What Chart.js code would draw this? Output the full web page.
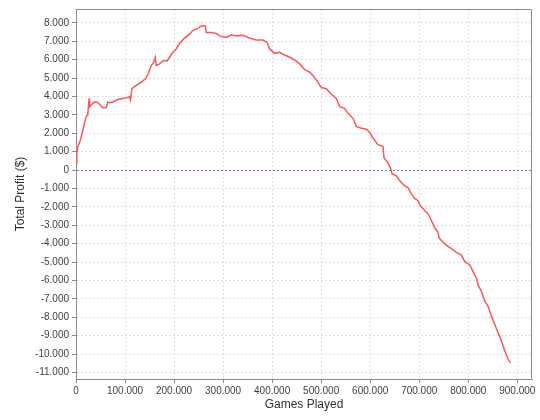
<!DOCTYPE html>
<html>
<head>
<meta charset="utf-8">
<script src="https://cdn.jsdelivr.net/npm/chart.js@4"></script>
<style>
  html, body { margin: 0; padding: 0; background: #ffffff; }
  #wrap { width: 540px; height: 420px; }
</style>
</head>
<body>
<div id="wrap"><canvas id="c" width="540" height="420"></canvas></div>
<script>
// Games played (x) and cumulative profit in $ (y)
const gamesPlayed = [
  0, 1600, 3700, 9200, 12700, 17300, 20800, 24100, 25500, 26900,
  27600, 34300, 37800, 44500, 49400, 54700, 61600, 64900, 68400, 75100,
  85300, 95500, 102400, 109200, 111200, 113900, 122900, 133100, 141800, 146500,
  153500, 158800, 161600, 163700, 170400, 178600, 185300, 190800, 197600, 204500,
  211200, 221400, 231600, 238400, 248600, 255500, 263700, 265700, 275900, 286100,
  292900, 299600, 306500, 316700, 326900, 340400, 354100, 367800, 381200, 389400,
  394900, 405100, 415300, 425500, 435700, 445900, 456100, 466300, 476500, 483300,
  493500, 500400, 510600, 520800, 531000, 537800, 548000, 554700, 564900, 571800,
  582000, 592200, 599000, 605700, 615900, 626100, 628200, 636300, 641200, 644500,
  653500, 660200, 670400, 677100, 684100, 690800, 697500, 702400, 711200, 717900,
  724900, 731600, 738400, 740500, 748600, 755500, 765700, 775900, 786100, 792900,
  803100, 809900, 816700, 820000, 826900, 833700, 840400, 847300, 854100, 860800,
  867700, 874400, 881100, 886100
];
const totalProfit = [
  350, 930, 1250, 1650, 2000, 2540, 2900, 3000, 3530, 3890,
  3440, 3620, 3700, 3670, 3530, 3390, 3400, 3700, 3660, 3700,
  3830, 3890, 3920, 3980, 3800, 4420, 4600, 4780, 4960, 5190,
  5680, 5860, 6130, 5680, 5770, 5950, 5910, 6130, 6400, 6580,
  6880, 7170, 7380, 7590, 7700, 7830, 7830, 7470, 7470, 7420,
  7290, 7240, 7200, 7350, 7290, 7320, 7170, 7060, 7060, 6940,
  6580, 6340, 6400, 6250, 6130, 5980, 5770, 5460, 5320, 5140,
  4780, 4480, 4420, 4120, 3890, 3440, 3350, 3080, 2810, 2370,
  2270, 2220, 2040, 1740, 1380, 1290, 660, 390, 120, -200,
  -320, -590, -860, -950, -1310, -1540, -1670, -1940, -2200, -2380,
  -2740, -3150, -3370, -3700, -3910, -4090, -4270, -4480, -4620, -4980,
  -5160, -5520, -5880, -6240, -6600, -7130, -7400, -7940, -8390, -8840,
  -9290, -9820, -10270, -10480
];
const xTickValues = [0, 100000, 200000, 300000, 400000, 500000, 600000, 700000, 800000, 900000];
const yTickValues = [-11000, -10000, -9000, -8000, -7000, -6000, -5000, -4000, -3000, -2000, -1000,
                     0, 1000, 2000, 3000, 4000, 5000, 6000, 7000, 8000];
const xTitle = "Games Played";
const yTitle = "Total Profit ($)";

const points = gamesPlayed.map((g, i) => ({ x: g, y: totalProfit[i] }));

function fmt(v) {
  const s = String(Math.round(Math.abs(v))).replace(/\B(?=(\d{3})+(?!\d))/g, '.');
  return (v < 0 ? '-' : '') + s;
}

const frame = {
  id: 'frame',
  afterDatasetsDraw(chart) {
    const a = chart.chartArea, c = chart.ctx;
    c.save();
    c.setLineDash([]);
    c.strokeStyle = '#8a8a8a';
    c.lineWidth = 1;
    c.beginPath();
    c.moveTo(a.left + 0.5, a.top + 0.5);
    c.lineTo(a.right - 0.5, a.top + 0.5);
    c.lineTo(a.right - 0.5, a.bottom - 0.5);
    c.stroke();
    c.restore();
  }
};

const tickFont = { family: "'Liberation Sans', Arial, sans-serif", size: 10 };
const titleFont = { family: "'Liberation Sans', Arial, sans-serif", size: 12 };

new Chart(document.getElementById('c'), {
  type: 'line',
  data: {
    datasets: [{
      data: points,
      borderColor: '#ff5555',
      borderWidth: 1.5,
      pointRadius: 0,
      tension: 0,
      fill: false
    }]
  },
  options: {
    responsive: false,
    animation: false,
    devicePixelRatio: 1,
    layout: { padding: { top: 4, right: 8, left: 0, bottom: 0 } },
    plugins: { legend: { display: false }, tooltip: { enabled: false } },
    scales: {
      x: {
        type: 'linear',
        min: 0,
        max: 930000,
        afterFit(s) { s.height = 41; },
        afterBuildTicks(s) { s.ticks = xTickValues.map(v => ({ value: v })); },
        border: { display: true, color: '#8a8a8a', dash: [2, 2] },
        grid: {
          color: '#dedede',
          tickLength: 4,
          tickColor: '#8a8a8a',
          tickBorderDash: []
        },
        ticks: {
          maxRotation: 0,
          autoSkip: false,
          padding: 2,
          color: '#404040',
          font: tickFont,
          callback: v => fmt(v)
        },
        title: {
          display: true,
          text: xTitle,
          color: '#303030',
          font: titleFont,
          padding: { top: 0, bottom: 8 }
        }
      },
      y: {
        type: 'linear',
        min: -11355,
        max: 8750,
        afterFit(s) { s.width = 76; },
        afterBuildTicks(s) { s.ticks = yTickValues.map(v => ({ value: v })); },
        border: { display: true, color: '#8a8a8a', dash: [2, 2] },
        grid: {
          color: ctx => (ctx.tick && ctx.tick.value === 0) ? '#7878dc' : '#dedede',
          tickLength: 4,
          tickColor: '#8a8a8a',
          tickBorderDash: []
        },
        ticks: {
          autoSkip: false,
          padding: 3,
          color: '#404040',
          font: tickFont,
          callback: v => fmt(v)
        },
        title: {
          display: true,
          text: yTitle,
          color: '#303030',
          font: titleFont,
          padding: { top: 13, bottom: 0 }
        }
      }
    }
  },
  plugins: [frame]
});
</script>
</body>
</html>
